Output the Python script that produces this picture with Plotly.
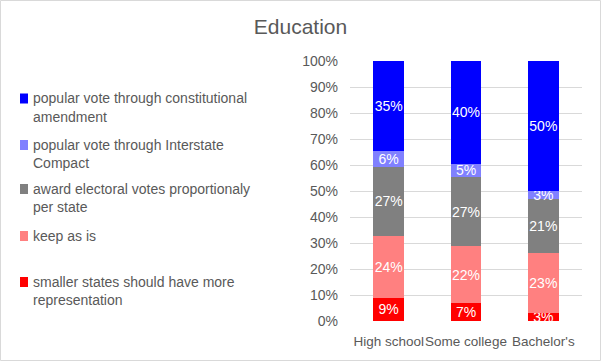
import plotly.graph_objects as go

categories = ["High school", "Some college", "Bachelor's"]
series_names = [
    "smaller states should have more representation",
    "keep as is",
    "award electoral votes proportionaly per state",
    "popular vote through Interstate Compact",
    "popular vote through constitutional amendment",
]
legend_lines = [
    ["smaller states should have more", "representation"],
    ["keep as is"],
    ["award electoral votes proportionaly", "per state"],
    ["popular vote through Interstate", "Compact"],
    ["popular vote through constitutional", "amendment"],
]
smaller_states = [9, 7, 3]
keep_as_is = [24, 22, 23]
proportional = [27, 27, 21]
interstate = [6, 5, 3]
constitutional = [35, 40, 50]
colors = ["#FF0000", "#FF8080", "#808080", "#8080FF", "#0000FF"]

values = [smaller_states, keep_as_is, proportional, interstate, constitutional]

W, H = 601, 361
ml, mr, mt, mb = 350, 19, 61, 40
pw, ph = W - ml - mr, H - mt - mb
FONT = "Liberation Sans"
GREY = "#595959"

fig = go.Figure()
for name, vals, col in zip(series_names, values, colors):
    fig.add_trace(go.Bar(
        x=categories, y=vals, name=name,
        marker=dict(color=col, line=dict(width=0)),
        text=[f"{v}%" for v in vals],
        textposition="inside", insidetextanchor="middle", textangle=0,
        textfont=dict(color="white", size=14, family=FONT),
        hoverinfo="skip", showlegend=False,
    ))

# legend drawn as swatches + text (top entry = top of stack)
def px_x(x):
    return (x - ml) / pw

def px_y(y):
    return 1 - (y - mt) / ph

entry_y = [282, 236, 189, 145, 98.5]
for lines, col, y0 in zip(legend_lines, colors, entry_y):
    fig.add_shape(type="rect", xref="paper", yref="paper",
                  x0=px_x(20), x1=px_x(28), y0=px_y(y0 + 5), y1=px_y(y0 - 5),
                  fillcolor=col, line=dict(width=0))
    for i, line in enumerate(lines):
        fig.add_annotation(text=line, xref="paper", yref="paper",
                           x=px_x(31), y=px_y(y0 + i * 18), xanchor="left",
                           yanchor="middle", showarrow=False,
                           font=dict(size=14, color=GREY, family=FONT))

fig.update_layout(
    width=W, height=H,
    barmode="stack", barnorm="percent", bargap=0.6,
    margin=dict(l=ml, r=mr, t=mt, b=mb, autoexpand=False),
    paper_bgcolor="white", plot_bgcolor="white",
    font=dict(family=FONT, color=GREY, size=14),
    title=dict(text="Education", x=0.5, xref="container", y=1 - 27 / H,
               yref="container", yanchor="middle", xanchor="center",
               font=dict(size=21, color=GREY)),
    uniformtext=dict(minsize=14, mode="show"),
    showlegend=False,
)
fig.update_xaxes(showline=False, ticks="", ticklabelstandoff=10, tickangle=0,
                 automargin=False, tickfont=dict(size=13.5, color=GREY))
fig.update_yaxes(range=[0, 100], dtick=10, ticksuffix="%", showgrid=True,
                 gridcolor="#D9D9D9", gridwidth=1, zeroline=False, ticks="",
                 automargin=False,
                 ticklabelstandoff=11, tickfont=dict(size=14, color=GREY))

fig.add_shape(type="rect", xref="paper", yref="paper",
              x0=-(ml - 0.5) / pw, x1=1 + (mr - 0.5) / pw,
              y0=-(mb - 0.5) / ph, y1=1 + (mt - 0.5) / ph,
              line=dict(color="#D9D9D9", width=1), layer="below")

fig.write_html("out.html", config=dict(displayModeBar=False),
               post_script="document.body.style.margin='0px';")
